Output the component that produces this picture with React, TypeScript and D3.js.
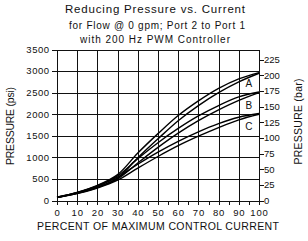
import * as d3 from "d3";

const percentTicks = [0, 10, 20, 30, 40, 50, 60, 70, 80, 90, 100];
const minorTicks = [0, 5, 10, 15, 20, 25, 30, 35, 40, 45, 50, 55, 60, 65, 70, 75, 80, 85, 90, 95, 100];
const psiTicks = [0, 500, 1000, 1500, 2000, 2500, 3000, 3500];
const barTicks = [0, 25, 50, 75, 100, 125, 150, 175, 200, 225];

// each curve is a hysteresis band: rising current (low) and falling current (high)
const current = [0, 10, 20, 30, 40, 50, 60, 70, 80, 90, 100];
const aLow = [70, 170, 310, 520, 990, 1430, 1850, 2200, 2500, 2750, 2950];
const aHigh = [75, 190, 350, 600, 1100, 1550, 1970, 2310, 2600, 2820, 2965];
const bLow = [70, 165, 300, 500, 870, 1230, 1560, 1850, 2100, 2320, 2500];
const bHigh = [75, 185, 340, 570, 970, 1340, 1670, 1960, 2200, 2400, 2515];
const cLow = [70, 160, 290, 470, 750, 1020, 1270, 1490, 1690, 1870, 2000];
const cHigh = [75, 180, 330, 540, 840, 1120, 1370, 1590, 1780, 1930, 2015];

const curveNames = ["A", "B", "C"];
const labelPercent = [95, 95, 95];
const labelPsi = [2630, 2125, 1635];

const PSI_PER_BAR = 14.5038;
const FONT = "'Liberation Sans', Arial, sans-serif";

export default function App() {
  const W = 308;
  const H = 241;
  const left = 57;
  const right = 259;
  const top = 49.5;
  const bottom = 200.5;

  const x = d3.scaleLinear().domain([0, 100]).range([left, right]);
  const y = d3.scaleLinear().domain([0, 3500]).range([bottom, top]);
  const yBar = d3.scaleLinear().domain([0, 3500 / PSI_PER_BAR]).range([bottom, top]);

  const line = d3
    .line<number>()
    .x((_, i) => x(current[i]))
    .y((d) => y(d))
    .curve(d3.curveCatmullRom.alpha(0.5));

  const series = [aLow, aHigh, bLow, bHigh, cLow, cHigh];

  return (
    <svg
      width={W}
      height={H}
      style={{ position: "absolute", left: 0, top: 0, background: "#fff" }}
      fontFamily={FONT}
      fill="#111"
    >
      <text x={155} y={13} fontSize={11.5} textAnchor="middle" textLength={180} lengthAdjust="spacing">
        Reducing Pressure vs. Current
      </text>
      <text x={157} y={28.5} fontSize={10} textAnchor="middle" textLength={176} lengthAdjust="spacing">
        for Flow @ 0 gpm; Port 2 to Port 1
      </text>
      <text x={155} y={42.5} fontSize={10} textAnchor="middle" textLength={150} lengthAdjust="spacing">
        with 200 Hz PWM Controller
      </text>

      <g stroke="#111" strokeWidth={1} shapeRendering="crispEdges">
        {psiTicks.map((t) => (
          <line key={"h" + t} x1={left - 5} x2={right} y1={Math.round(y(t)) + 0.5} y2={Math.round(y(t)) + 0.5} />
        ))}
        {percentTicks.map((t) => (
          <line key={"v" + t} x1={Math.round(x(t)) + 0.5} x2={Math.round(x(t)) + 0.5} y1={top} y2={bottom} />
        ))}
        {minorTicks.map((t) => (
          <line key={"m" + t} x1={Math.round(x(t)) + 0.5} x2={Math.round(x(t)) + 0.5} y1={bottom} y2={bottom + 4} />
        ))}
        {barTicks.map((t) => (
          <line key={"b" + t} x1={right} x2={right + 5} y1={Math.round(yBar(t)) + 0.5} y2={Math.round(yBar(t)) + 0.5} />
        ))}
      </g>

      <g fill="none" stroke="#000" strokeWidth={1.4}>
        {series.map((s, i) => (
          <path key={i} d={line(s) ?? ""} />
        ))}
      </g>

      <g fontSize={10} textAnchor="middle">
        {curveNames.map((n, i) => (
          <text key={n} x={x(labelPercent[i])} y={y(labelPsi[i])}>
            {n}
          </text>
        ))}
      </g>

      <g fontSize={9.5} textAnchor="end" letterSpacing={0.5}>
        {psiTicks.map((t) => (
          <text key={t} x={49.5} y={y(t) + 3.4}>
            {t}
          </text>
        ))}
      </g>
      <g fontSize={9.5} textAnchor="start">
        {barTicks.map((t) => (
          <text key={t} x={264} y={yBar(t) + 3.4}>
            {t}
          </text>
        ))}
      </g>
      <g fontSize={9.5} textAnchor="middle" letterSpacing={0.8}>
        {percentTicks.map((t) => (
          <text key={t} x={x(t) + 0.5} y={215.5}>
            {t}
          </text>
        ))}
      </g>

      <text x={158} y={230} fontSize={10.5} textAnchor="middle" textLength={242} lengthAdjust="spacing">
        PERCENT OF MAXIMUM CONTROL CURRENT
      </text>
      <text
        transform="translate(13.5,126) rotate(-90)"
        fontSize={10.5}
        textAnchor="middle"
        textLength={78}
        lengthAdjust="spacing"
      >
        PRESSURE (psi)
      </text>
      <text
        transform="translate(302,121.5) rotate(-90)"
        fontSize={10.5}
        textAnchor="middle"
        textLength={86}
        lengthAdjust="spacing"
      >
        PRESSURE (bar)
      </text>
    </svg>
  );
}
